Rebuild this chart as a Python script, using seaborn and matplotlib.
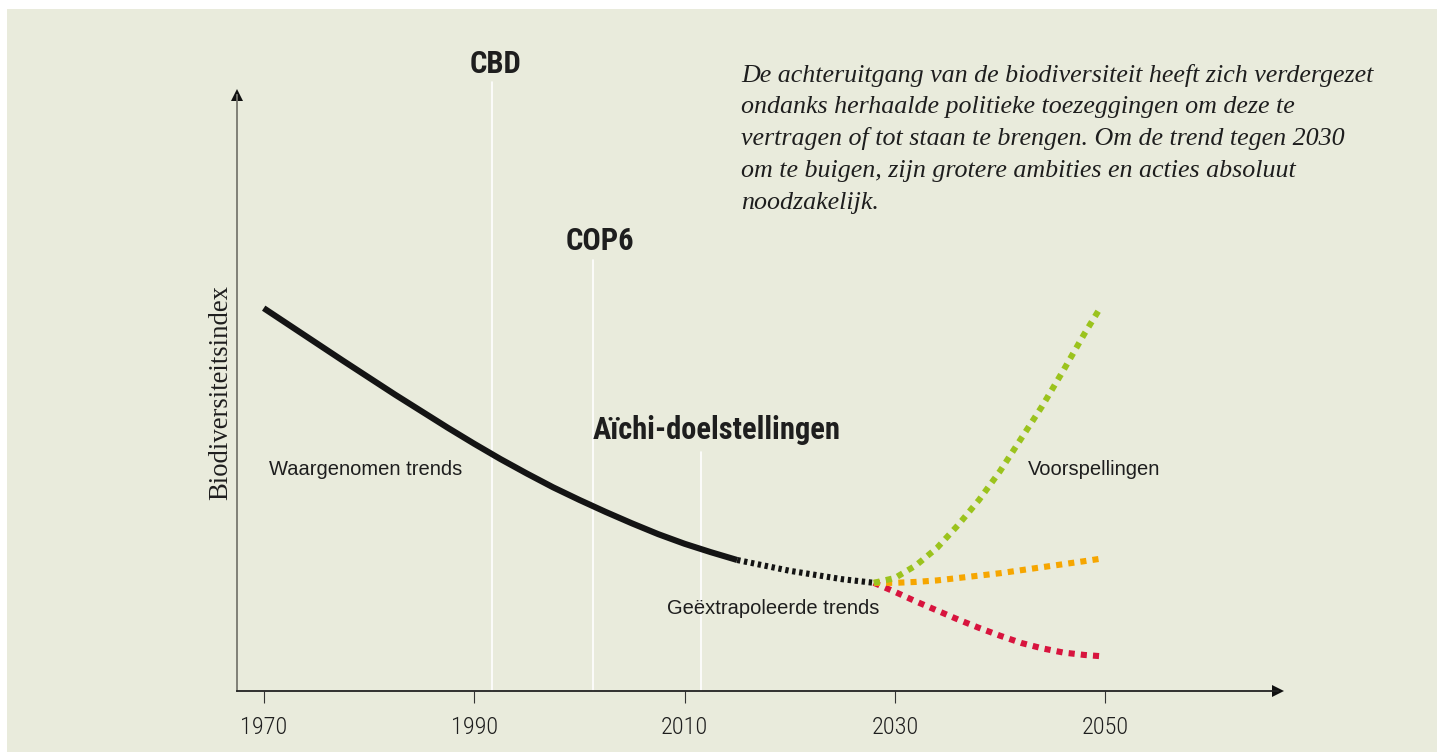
import numpy as np
import pandas as pd
import matplotlib
matplotlib.use("Agg")
import matplotlib.pyplot as plt
from matplotlib import font_manager as fm
from matplotlib.patches import Rectangle
import seaborn as sns

# ---------------- data ----------------
OBS_YEARS = [1970, 1972.5, 1975, 1977.5, 1980, 1982.5, 1985, 1987.5, 1990,
             1992.5, 1995, 1997.5, 2000, 2002.5, 2005, 2007.5, 2010, 2012.5, 2015]
OBS_VALUES = [63.7, 60.8, 57.9, 55.0, 52.15, 49.3, 46.55, 43.8, 41.15,
              38.6, 36.2, 33.9, 31.8, 29.8, 27.9, 26.1, 24.5, 23.1, 21.8]

EXTRA_YEARS = [2015, 2020, 2025, 2028]
EXTRA_VALUES = [21.8, 20.0, 18.6, 18.0]

GREEN_YEARS = [2028, 2030, 2032, 2034, 2036, 2038, 2040, 2042, 2044, 2046, 2048, 2049.5]
GREEN_VALUES = [18.0, 18.8, 20.9, 23.8, 27.6, 31.8, 36.6, 42.0, 47.4, 53.3, 59.4, 63.7]

ORANGE_YEARS = [2028, 2030, 2032, 2034, 2036, 2038, 2040, 2042, 2044, 2046, 2048, 2049.5]
ORANGE_VALUES = [18.0, 18.0, 18.15, 18.4, 18.8, 19.2, 19.6, 20.1, 20.6, 21.1, 21.6, 22.0]

RED_YEARS = [2028, 2030, 2032, 2034, 2036, 2038, 2040, 2042, 2044, 2046, 2048, 2049.5]
RED_VALUES = [18.0, 16.5, 14.9, 13.4, 11.9, 10.5, 9.2, 8.0, 7.1, 6.4, 6.0, 5.8]

EVENT_LABELS = ["CBD", "COP6", "Aïchi-doelstellingen"]
EVENT_YEARS = [1991.7, 2001.3, 2011.6]
EVENT_LINE_TOPS = [101.3, 71.7, 39.8]

X_TICKS = [1970, 1990, 2010, 2030, 2050]
Y_LABEL = "Biodiversiteitsindex"
PARAGRAPH = [
    "De achteruitgang van de biodiversiteit heeft zich verdergezet",
    "ondanks herhaalde politieke toezeggingen om deze te",
    "vertragen of tot staan te brengen. Om de trend tegen 2030",
    "om te buigen, zijn grotere ambities en acties absoluut",
    "noodzakelijk.",
]

# ---------------- style ----------------
sns.set_theme(style="white")


def pick(fams, **kw):
    for f in fams:
        try:
            fm.findfont(fm.FontProperties(family=f, **kw), fallback_to_default=False)
            return f
        except Exception:
            pass
    return "DejaVu Sans"


SANS = pick(["Liberation Sans", "Arial", "DejaVu Sans"])
SERIF = pick(["Liberation Serif", "DejaVu Serif"])
NARROW = pick(["Liberation Sans Narrow", "Roboto Condensed", "DejaVu Sans"])
plt.rcParams["font.family"] = [SANS, "DejaVu Sans"]

BG = "#e9ebdc"
TXT = "#1e1e1e"
W, H = 1443, 753
fig = plt.figure(figsize=(W / 100, H / 100), dpi=100, facecolor="white")
fig.patches.append(Rectangle((7 / W, 1 - 752 / H), 1430 / W, (752 - 9) / H,
                             transform=fig.transFigure, facecolor=BG,
                             edgecolor="none", zorder=-10))

L, R, B, T = 237, 1278, 691, 95
ax = fig.add_axes([L / W, 1 - B / H, (R - L) / W, (B - T) / H])
ax.set_facecolor("none")
ax.set_zorder(1)

px_per_year = 10.52
x0 = 1970 - (263.7 - L) / px_per_year
x1 = 1970 + (R - 263.7) / px_per_year
ax.set_xlim(x0, x1)
ax.set_ylim(0, (B - T) / 6.01)

# event vertical lines
for yr, top in zip(EVENT_YEARS, EVENT_LINE_TOPS):
    ax.plot([yr, yr], [0, top], color="white", lw=1.2, zorder=1, clip_on=False)

lw = 4.4
obs = pd.DataFrame({"jaar": OBS_YEARS, "index": OBS_VALUES})
ext = pd.DataFrame({"jaar": EXTRA_YEARS, "index": EXTRA_VALUES})
grn = pd.DataFrame({"jaar": GREEN_YEARS, "index": GREEN_VALUES})
org = pd.DataFrame({"jaar": ORANGE_YEARS, "index": ORANGE_VALUES})
red = pd.DataFrame({"jaar": RED_YEARS, "index": RED_VALUES})

sns.lineplot(data=obs, x="jaar", y="index", ax=ax, color="#141414", lw=lw,
             solid_capstyle="butt", solid_joinstyle="round", zorder=3)
sns.lineplot(data=ext, x="jaar", y="index", ax=ax, color="#141414", lw=lw,
             linestyle=(0, (0.55, 0.6)), zorder=3)
sns.lineplot(data=red, x="jaar", y="index", ax=ax, color="#d8143e", lw=lw,
             linestyle=(0, (1, 1)), zorder=4)
sns.lineplot(data=org, x="jaar", y="index", ax=ax, color="#f6a600", lw=lw,
             linestyle=(0, (1, 1)), zorder=4)
sns.lineplot(data=grn, x="jaar", y="index", ax=ax, color="#9bc31d", lw=lw,
             linestyle=(0, (1, 1)), zorder=5)

# axes
for s in ["top", "right"]:
    ax.spines[s].set_visible(False)
ax.spines["left"].set_color("#77776f")
ax.spines["left"].set_linewidth(1.3)
ax.spines["bottom"].set_color("#222222")
ax.spines["bottom"].set_linewidth(1.3)
ax.plot([0], [1], marker="^", ms=8, color="#111111", transform=ax.transAxes,
        clip_on=False, markeredgewidth=0)
ax.plot([1], [0], marker=">", ms=8, color="#111111", transform=ax.transAxes,
        clip_on=False, markeredgewidth=0)

ax.set_xticks(X_TICKS)
ax.set_xticklabels([str(t) for t in X_TICKS], family=[NARROW, "DejaVu Sans"],
                   fontstretch="condensed", fontweight="light", fontsize=17.5,
                   color=TXT)
ax.tick_params(axis="x", bottom=True, direction="out", length=8.6, width=0.8,
               color="#333333", pad=9.5)
ax.set_yticks([])
ax.set_xlabel("")
ax.set_ylabel(Y_LABEL, family=[SERIF, "DejaVu Serif"], fontsize=19.2,
              color=TXT, labelpad=2.5)

# event labels
ev_pos = [(1992.0, 102.8, "center"), (2002.0, 73.4, "center"), (2001.3, 42.0, "left")]
for lab, (x, y, ha) in zip(EVENT_LABELS, ev_pos):
    ax.text(x, y, lab, family=[NARROW, "DejaVu Sans"], fontweight="bold",
            fontstretch="condensed", fontsize=22, color=TXT, ha=ha,
            va="baseline", clip_on=False)

# annotations
ax.text(1970.5, 35.9, "Waargenomen trends", fontsize=14.5, color=TXT, va="baseline")
ax.text(2008.3, 12.8, "Geëxtrapoleerde trends", fontsize=14.5, color=TXT, va="baseline")
ax.text(2042.65, 36.0, "Voorspellingen", fontsize=14.5, color=TXT, va="baseline")

# paragraph
for i, line in enumerate(PARAGRAPH):
    fig.text(741 / W, 1 - (81.7 + 31.7 * i) / H, line, family=[SERIF, "DejaVu Serif"],
             style="italic", fontsize=18.7, color=TXT, va="baseline", ha="left")

fig.savefig("out.png", dpi=100, facecolor="white")
